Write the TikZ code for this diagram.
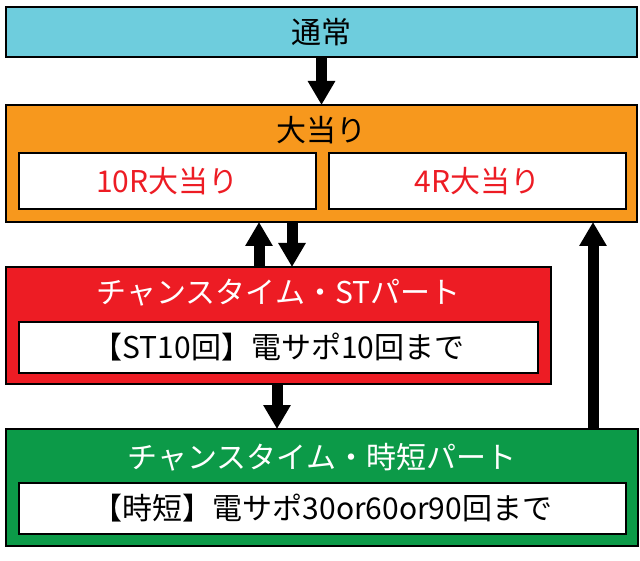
\documentclass[tikz,border=0pt]{standalone}
\usepackage{fontspec}
\setmainfont{Noto Sans CJK JP}
\usetikzlibrary{arrows.meta}
\definecolor{normblue}{RGB}{110,205,221}
\definecolor{hitorange}{RGB}{247,152,29}
\definecolor{stred}{RGB}{237,28,36}
\definecolor{jtgreen}{RGB}{12,154,72}
\begin{document}
\begin{tikzpicture}[x=1pt,y=-1pt,inner sep=0pt,outer sep=0pt,line width=1.5pt,
font=\fontsize{30}{32}\selectfont,
modebox/.style={draw,rectangle,minimum height=117pt},
subbox/.style={draw,rectangle,fill=white,minimum height=51pt},
bigarrow/.style={line width=11pt,-{Triangle[width=26pt,length=24pt]}}]

\useasboundingbox (0,0) rectangle (640,561);

\draw (321.5,32) node[draw,rectangle,fill=normblue,minimum width=631pt,minimum height=50pt] (norm) {通常};

\draw (321.5,163.5) node[modebox,fill=hitorange,minimum width=631pt] (hit) {};
\draw (321.5,130) node (hittitle) {大当り};
\draw (167.5,181) node[subbox,minimum width=297pt,minimum height=56pt,text=stred] (hit10) {10R大当り};
\draw (477.5,181) node[subbox,minimum width=297pt,minimum height=56pt,text=stred] (hit4) {4R大当り};

\draw (278.5,325.5) node[modebox,fill=stred,minimum width=545pt] (st) {};
\draw (278.5,293) node[text=white] (sttitle) {チャンスタイム・STパート};
\draw (278.5,347.5) node[subbox,minimum width=519pt] (stin) {【ST10回】電サポ10回まで};

\draw (322,487.5) node[modebox,fill=jtgreen,minimum width=632pt] (jt) {};
\draw (322,457) node[text=white] (jttitle) {チャンスタイム・時短パート};
\draw (322.5,508.5) node[subbox,minimum width=607pt] (jtin) {【時短】電サポ30or60or90回まで};

\coordinate (upx) at (259,0);
\coordinate (downx) at (292,0);
\coordinate (stjtx) at (277,0);
\coordinate (backx) at (593,0);

\draw[bigarrow] (norm.south) -- (hit.north);
\draw[bigarrow] (st.north -| upx) -- (hit.south -| upx);
\draw[bigarrow] (hit.south -| downx) -- (st.north -| downx);
\draw[bigarrow] (st.south -| stjtx) -- (jt.north -| stjtx);
\draw[bigarrow] (jt.north -| backx) -- (hit.south -| backx);

\end{tikzpicture}
\end{document}
